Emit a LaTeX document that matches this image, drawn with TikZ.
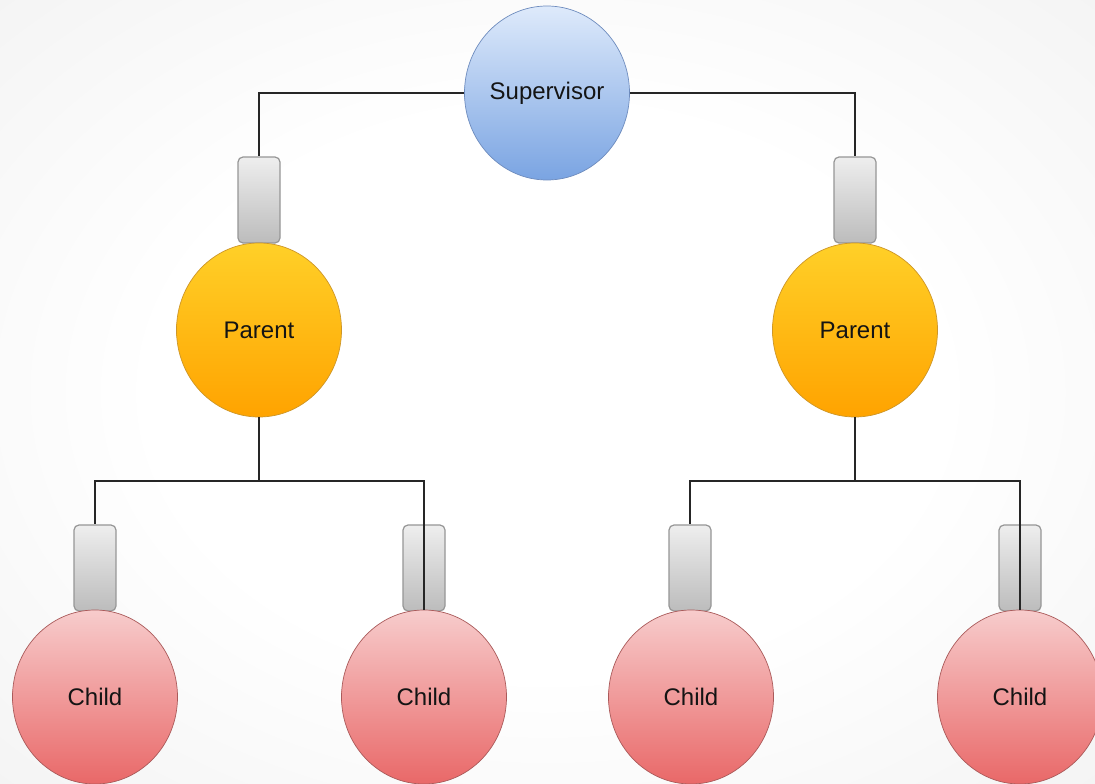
\documentclass[tikz,border=0pt]{standalone}
\usepackage{fontspec}
\setmainfont{Liberation Sans}
\usetikzlibrary{shapes.geometric}
\definecolor{supTop}{RGB}{222,234,251}
\definecolor{supBot}{RGB}{122,164,226}
\definecolor{supLine}{RGB}{110,140,190}
\definecolor{parTop}{RGB}{255,208,40}
\definecolor{parBot}{RGB}{255,163,0}
\definecolor{parLine}{RGB}{205,150,40}
\definecolor{chiTop}{RGB}{247,204,204}
\definecolor{chiBot}{RGB}{233,104,104}
\definecolor{chiLine}{RGB}{170,90,90}
\definecolor{plugTop}{RGB}{238,238,238}
\definecolor{plugBot}{RGB}{188,188,188}
\definecolor{plugLine}{RGB}{150,150,150}
\definecolor{bgOuter}{RGB}{232,232,232}
\pgfdeclareradialshading{bgshade}{\pgfpoint{0bp}{0bp}}{color(0bp)=(white); color(18bp)=(white); color(55bp)=(bgOuter); color(80bp)=(bgOuter)}
\tikzset{
  ball/.style={ellipse, minimum width=165pt, minimum height=174pt, inner sep=0pt, line width=0.7pt,
    font=\fontsize{24}{28}\selectfont, text=black!92},
  supball/.style={ball, draw=supLine, top color=supTop, bottom color=supBot},
  parball/.style={ball, draw=parLine, top color=parTop, bottom color=parBot},
  chiball/.style={ball, draw=chiLine, top color=chiTop, bottom color=chiBot},
  plug/.style={rectangle, rounded corners=5pt, minimum width=42pt, minimum height=86pt, inner sep=0pt,
    draw=plugLine, line width=1.2pt, top color=plugTop, bottom color=plugBot},
  wire/.style={draw=black!85, line width=1.3pt}
}
\begin{document}
\begin{tikzpicture}[x=1pt,y=-1pt]
\useasboundingbox (0,0) rectangle (1095,784);
\clip (0,0) rectangle (1095,784);
\shade[shading=bgshade] (0,0) rectangle (1095,784);
% nodes
\node[supball] (sup) at (547,93) {Supervisor};
\node[plug] (pl1) at (259,200) {};
\node[plug] (pl2) at (855,200) {};
\node[parball] (par1) at (259,330) {Parent};
\node[parball] (par2) at (855,330) {Parent};
\node[plug] (pc1) at (95,568) {};
\node[plug] (pc2) at (424,568) {};
\node[plug] (pc3) at (690,568) {};
\node[plug] (pc4) at (1020,568) {};
\node[chiball] (ch1) at (95,697) {Child};
\node[chiball] (ch2) at (424,697) {Child};
\node[chiball] (ch3) at (691,697) {Child};
\node[chiball] (ch4) at (1020,697) {Child};
\coordinate (j1) at (259,481);
\coordinate (j2) at (855,481);
% wires
\draw[wire] (sup.west) -| (pl1.north);
\draw[wire] (sup.east) -| (pl2.north);
\draw[wire] (par1.south) -- (j1);
\draw[wire] (j1) -| (pc1.north);
\draw[wire] (j1) -| (ch2.north);
\draw[wire] (par2.south) -- (j2);
\draw[wire] (j2) -| (pc3.north);
\draw[wire] (j2) -| (ch4.north);
\end{tikzpicture}
\end{document}
